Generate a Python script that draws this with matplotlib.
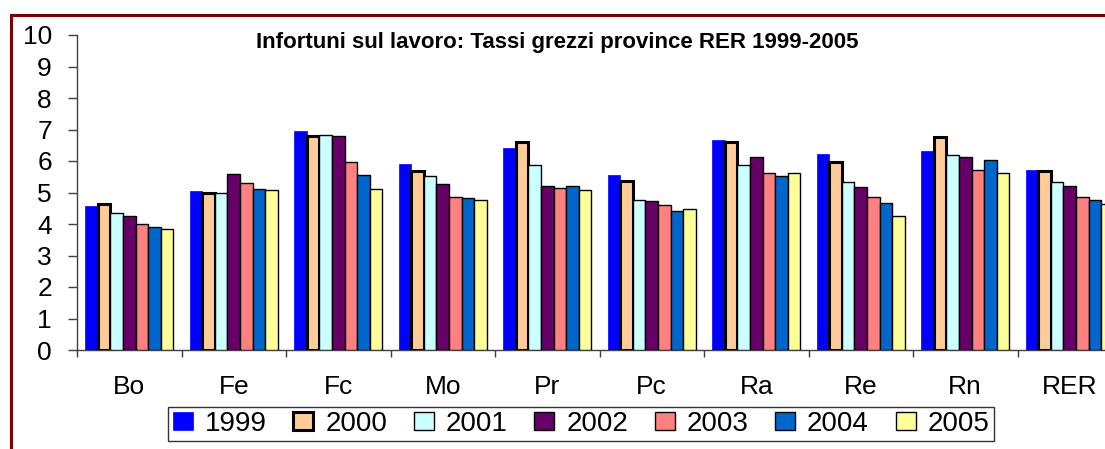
import matplotlib
matplotlib.use("Agg")
import matplotlib.pyplot as plt
from matplotlib.lines import Line2D
import numpy as np

plt.rcParams['font.family'] = ['Liberation Sans', 'DejaVu Sans']

categories = ["Bo", "Fe", "Fc", "Mo", "Pr", "Pc", "Ra", "Re", "Rn", "RER"]
years = ["1999", "2000", "2001", "2002", "2003", "2004", "2005"]

v1999 = [4.57, 5.06, 6.96, 5.91, 6.42, 5.57, 6.68, 6.21, 6.32, 5.71]
v2000 = [4.63, 4.99, 6.80, 5.69, 6.59, 5.38, 6.60, 5.98, 6.76, 5.68]
v2001 = [4.36, 4.97, 6.84, 5.52, 5.86, 4.77, 5.86, 5.32, 6.18, 5.32]
v2002 = [4.26, 5.58, 6.79, 5.27, 5.22, 4.72, 6.12, 5.17, 6.13, 5.22]
v2003 = [4.00, 5.29, 5.98, 4.87, 5.13, 4.61, 5.63, 4.86, 5.72, 4.86]
v2004 = [3.90, 5.11, 5.57, 4.81, 5.22, 4.42, 5.52, 4.68, 6.02, 4.76]
v2005 = [3.85, 5.07, 5.12, 4.77, 5.07, 4.48, 5.63, 4.26, 5.63, 4.62]
series = [v1999, v2000, v2001, v2002, v2003, v2004, v2005]

colors = ["#0000FF", "#FFCC99", "#CCFFFF", "#660066", "#FF8080", "#0066CC", "#FFFF99"]
edgecolors = ["#0000FF", "black", "black", "black", "black", "black", "black"]
linewidths = [0.5, 2.2, 1.0, 1.0, 1.0, 1.0, 1.0]

W, H = 1105, 449
fig = plt.figure(figsize=(W / 100, H / 100), dpi=100)
ax = fig.add_axes([77 / W, (H - 350) / H, 1045 / W, 315 / H])

x = np.arange(len(categories))
bw = 0.12
for j, (vals, c, ec, lw) in enumerate(zip(series, colors, edgecolors, linewidths)):
    ax.bar(x + (j - 3) * bw, vals, width=bw, color=c, edgecolor=ec, linewidth=lw,
           label=years[j], zorder=3)

ax.set_xlim(-0.5, len(categories) - 0.5)
ax.set_ylim(0, 10)
ax.set_yticks(range(0, 11))
ax.set_yticklabels([str(i) for i in range(0, 11)], fontsize=19)
ax.tick_params(axis='y', direction='out', length=6.5, width=1, color='#404040', pad=11.5)

ax.set_xticks(x)
ax.set_xticklabels(categories, fontsize=19)
ax.set_xticks(np.arange(-0.5, len(categories), 1.0), minor=True)
ax.tick_params(axis='x', which='major', length=0, pad=18)
ax.tick_params(axis='x', which='minor', direction='out', length=5, width=1, color='#404040')

for s in ['top', 'right']:
    ax.spines[s].set_visible(False)
for s in ['left', 'bottom']:
    ax.spines[s].set_color('#404040')
    ax.spines[s].set_linewidth(1)

fig.text(557 / W, 1 - 48 / H, "Infortuni sul lavoro: Tassi grezzi province RER 1999-2005",
         ha='center', va='baseline', fontsize=16, fontweight='bold')

leg = fig.legend(loc='center', bbox_to_anchor=(581 / W, 1 - 424 / H), ncol=7,
                 fontsize=20, frameon=True, fancybox=False, edgecolor='black',
                 handlelength=0.72, handleheight=0.61, handletextpad=0.43,
                 columnspacing=0.96, borderpad=0.15, borderaxespad=0)
leg.get_frame().set_linewidth(1)

# maroon frame
fig.add_artist(Line2D([11 / W, 11 / W, 1.01], [-0.01, 1 - 14.5 / H, 1 - 14.5 / H],
                      transform=fig.transFigure, color='#800000', linewidth=2.2,
                      solid_joinstyle='miter'))

fig.savefig("out.png", dpi=100)
